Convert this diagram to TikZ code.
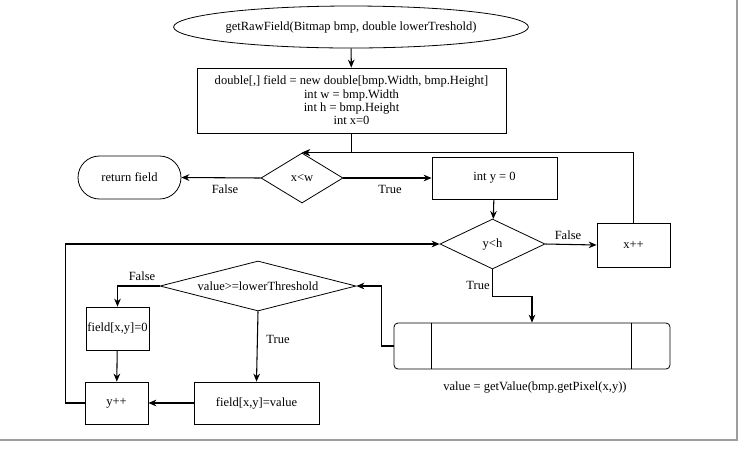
\documentclass[tikz,border=0pt]{standalone}
\usepackage{fontspec}
\setmainfont{Liberation Serif}
\usepackage{tikz}
\usetikzlibrary{shapes.geometric,shapes.misc,arrows.meta,calc}
\tikzset{
  txt/.style={font=\fontsize{9.4}{10}\selectfont, inner sep=0.75pt},
  blk/.style={draw, line width=0.6pt, txt, align=center},
  cond/.style={draw, line width=0.6pt, diamond, txt, inner sep=0pt},
  arr/.style={line width=0.8pt, -{Stealth[length=6pt,width=5pt]}},
  ln/.style={line width=0.8pt}
}
\begin{document}
\begin{tikzpicture}[x=0.75pt,y=0.75pt,yscale=-1,xscale=1]
\useasboundingbox (0,0) rectangle (739,455);

%Frame
\draw [line width=2pt, color=black!38] (0,440) -- (737,440) -- (737,0) ;

%Shapes
\node [blk, ellipse, inner sep=0pt, minimum width=220.5pt, minimum height=31.5pt] (start) at (351,27) {getRawField(Bitmap bmp, double lowerTreshold)};
\node [blk, minimum width=231.75pt, minimum height=48.75pt] (init) at (351.5,100.5) {double[,] field = new double[bmp.Width, bmp.Height]\\int w = bmp.Width\\int h = bmp.Height\\int x=0};
\node [cond, aspect=1.64, minimum width=61.5pt, minimum height=37.5pt] (cx) at (302,178) {x<w};
\node [blk, rounded rectangle, minimum width=78.75pt, minimum height=32.25pt] (ret) at (129.5,177.5) {return field};
\node [blk, minimum width=93.75pt, minimum height=31.5pt] (inity) at (494.5,178) {int y = 0};
\node [cond, aspect=2.1, minimum width=78.75pt, minimum height=37.5pt] (cy) at (492.5,244) {y<h};
\node [blk, minimum width=54.75pt, minimum height=33pt] (incx) at (633.5,245) {x++};
\node [draw, line width=0.6pt, rounded corners=3pt, minimum width=207pt, minimum height=34.5pt] (getv) at (532,346) {};
\draw [line width=0.6pt] ($(getv.north west)+(38,0)$) -- ($(getv.south west)+(38,0)$) ;
\draw [line width=0.6pt] ($(getv.north east)+(-39,0)$) -- ($(getv.south east)+(-39,0)$) ;
\node [cond, aspect=3.92, minimum width=147pt, minimum height=37.5pt] (cval) at (258,286) {value>=lowerThreshold};
\node [blk, minimum width=47.25pt, minimum height=32.25pt] (zero) at (117.5,328.5) {field[x,y]=0};
\node [blk, minimum width=47.25pt, minimum height=31.5pt] (incy) at (116.5,403) {y++};
\node [blk, minimum width=93.75pt, minimum height=31.5pt] (setv) at (256.5,403) {field[x,y]=value};

%Connectors
\draw [arr] (start) -- (init) ;
\draw [arr] (init.south) |- (cx.north) ;
\draw [arr] (incx.north) |- (cx.north) ;
\draw [arr] (cx.west) -- (ret.east) ;
\draw [arr] (cx.east) -- (inity.west) ;
\draw [arr] (inity) -- (cy) ;
\draw [arr] (cy.east) -- (incx.west) ;
\draw [arr] (cy.south) -- ++(0,27) -| (getv.north) ;
\draw [arr] (getv.west) -- ++(-12,0) |- (cval.east) ;
\draw [arr] (cval.west) -| (zero.north) ;
\draw [arr] (zero) -- (incy) ;
\draw [arr] (cval.south) -- (setv.north) ;
\draw [arr] (setv.west) -- (incy.east) ;
\draw [arr] (incy.west) -- ++(-19,0) |- (cy.west) ;

% Text Node
\node [txt] (lf1) at (225,189) {False};
\node [txt] (lt1) at (390,189) {True};
\node [txt] (lf2) at (568,235) {False};
\node [txt] (lt2) at (478,285) {True};
\node [txt] (lf3) at (142,276) {False};
\node [txt] (lt3) at (278,339) {True};
\node [txt] (lget) at (535,387) {value = getValue(bmp.getPixel(x,y))};

\end{tikzpicture}
\end{document}
